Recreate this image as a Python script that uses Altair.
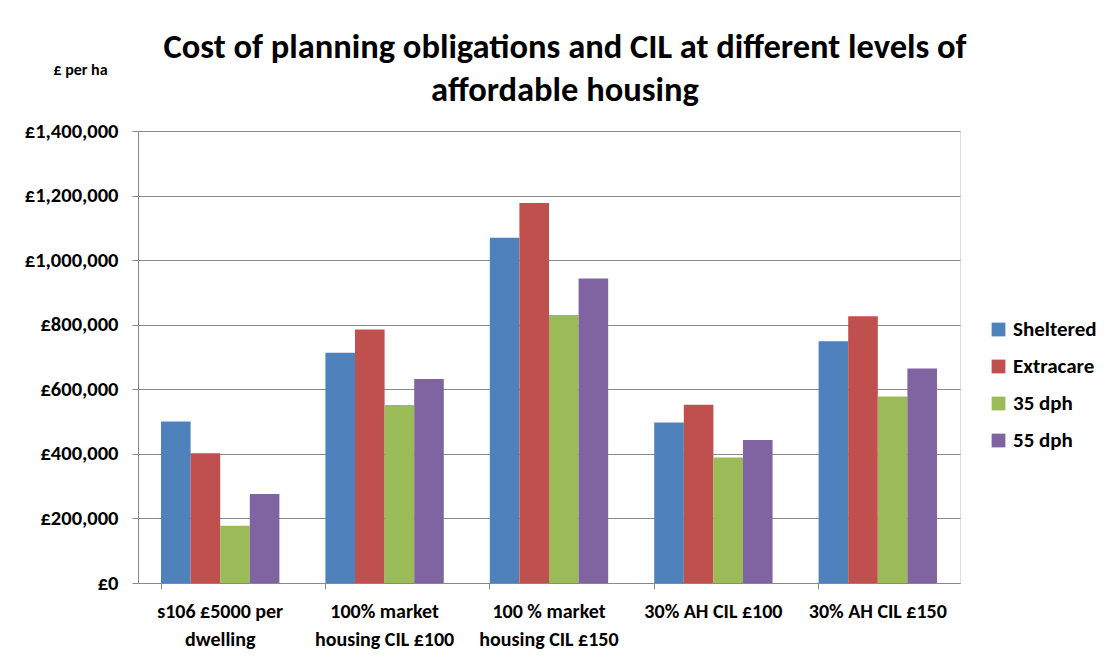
import altair as alt
import pandas as pd

categories = [
    "s106 £5000  per|dwelling",
    "100% market|housing  CIL £100",
    "100 % market|housing CIL £150",
    "30% AH CIL £100",
    "30% AH CIL £150",
]
series_names = ["Sheltered", "Extracare", "35 dph", "55 dph"]
sheltered = [500000, 713000, 1069000, 497000, 749000]
extracare = [402000, 785000, 1177000, 552000, 826000]
dph35 = [177000, 551000, 830000, 389000, 578000]
dph55 = [276000, 632000, 943000, 443000, 664000]
colors = ["#4F81BD", "#C0504D", "#9BBB59", "#8064A2"]

rows = []
for s, vals in zip(series_names, [sheltered, extracare, dph35, dph55]):
    for c, v in zip(categories, vals):
        rows.append({"cat": c, "series": s, "value": v})
df = pd.DataFrame(rows)

FONT = "Carlito, Calibri, Lato, sans-serif"

chart = alt.Chart(df).mark_bar().encode(
    x=alt.X("cat:N", sort=categories,
            scale=alt.Scale(paddingInner=0.28, paddingOuter=0.14),
            axis=alt.Axis(title=None, labelAngle=0, labelExpr="split(datum.label, '|')",
                          labelFont=FONT, labelFontSize=20, labelFontWeight="bold",
                          labelColor="#000000", labelPadding=12, labelLineHeight=28,
                          bandPosition=0, tickSize=6, tickColor="#888888",
                          domainColor="#888888", grid=False, labelBaseline="top")),
    xOffset=alt.XOffset("series:N", sort=series_names),
    y=alt.Y("value:Q", scale=alt.Scale(domain=[0, 1400000]),
            axis=alt.Axis(title="£ per ha", titleAngle=0, titleX=-58, titleY=-54,
                          titleAlign="center", titleFont=FONT, titleFontSize=16,
                          titleFontWeight="bold", titleColor="#000000",
                          values=[0, 200000, 400000, 600000, 800000, 1000000, 1200000, 1400000],
                          labelExpr="'£' + format(datum.value, ',')",
                          labelFont=FONT, labelFontSize=20.5, labelFontWeight="bold",
                          labelColor="#000000", labelPadding=14, tickSize=6,
                          tickColor="#888888", domainColor="#888888",
                          gridColor="#8a8a8a", gridWidth=1)),
    color=alt.Color("series:N", sort=series_names,
                    scale=alt.Scale(domain=series_names, range=colors),
                    legend=alt.Legend(title=None, orient="none", legendX=850, legendY=188,
                                      symbolType="square", symbolSize=190,
                                      symbolStrokeWidth=0, labelFont=FONT,
                                      labelFontSize=21, labelFontWeight="bold",
                                      labelColor="#000000", rowPadding=15,
                                      labelOffset=4)),
).properties(
    width=822,
    height=452,
    title=alt.TitleParams(
        text=["Cost of planning obligations and CIL at different levels of",
              "affordable housing"],
        font=FONT, fontSize=34.5, fontWeight="bold", color="#000000",
        anchor="middle", lineHeight=43, dx=16, offset=22, dy=69),
    autosize=alt.AutoSizeParams(type="none"),
    padding={"left": 130, "top": 123, "right": 137, "bottom": 67},
).configure_view(stroke=None).configure(background="white")

chart.save("out.html", embed_options={"renderer": "svg", "actions": False})
